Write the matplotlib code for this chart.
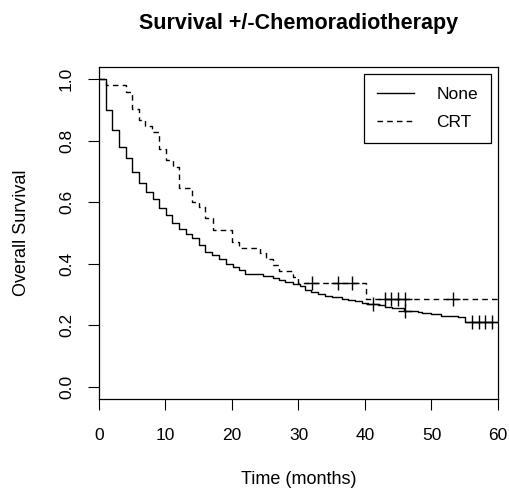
import numpy as np
import matplotlib
matplotlib.use("Agg")
import matplotlib.pyplot as plt
from matplotlib.lines import Line2D

# Kaplan-Meier step data
none_t = [0, 1.05, 2.0, 3.05, 4.05, 5.0, 6.05, 7.05, 8.05, 9.05, 10.1, 11.05, 12.1, 13.1,
          14.0, 15.0, 16.0, 17.0, 18.0, 19.1, 20.1, 21.0, 22.0, 24.6, 26.1, 27.0, 28.0,
          29.1, 30.2, 31.0, 31.9, 33.0, 34.0, 35.0, 36.5, 37.5, 38.5, 39.5, 40.5, 42.0,
          43.0, 44.0, 45.8, 48.0, 48.5, 50.0, 51.5, 54.0, 55.1, 60.0]
none_s = [1.0, 0.899, 0.834, 0.780, 0.743, 0.699, 0.663, 0.634, 0.609, 0.582, 0.558, 0.531,
          0.512, 0.496, 0.483, 0.461, 0.439, 0.429, 0.415, 0.399, 0.389, 0.380, 0.366, 0.361,
          0.355, 0.347, 0.341, 0.333, 0.327, 0.315, 0.307, 0.302, 0.297, 0.292, 0.287, 0.283,
          0.279, 0.274, 0.270, 0.265, 0.261, 0.255, 0.248, 0.243, 0.239, 0.236, 0.232, 0.228,
          0.211, 0.211]
none_cens = [41.2, 46.0, 56.1, 57.1, 58.1, 59.1]

crt_t = [0, 1.05, 4.05, 5.0, 6.0, 6.9, 8.0, 9.05, 10.1, 11.1, 12.1, 14.0, 15.0, 16.0, 17.1,
         20.0, 21.0, 24.2, 25.1, 26.1, 27.0, 29.2, 30.0, 40.1, 60.0]
crt_s = [1.0, 0.981, 0.959, 0.902, 0.867, 0.847, 0.829, 0.772, 0.737, 0.715, 0.645, 0.602,
         0.585, 0.548, 0.510, 0.472, 0.452, 0.434, 0.415, 0.396, 0.378, 0.357, 0.338, 0.285,
         0.285]
crt_cens = [32.1, 36.0, 38.1, 43.0, 43.9, 44.9, 46.0, 53.2]

x_ticks = [0, 10, 20, 30, 40, 50, 60]
y_ticks = [0.0, 0.2, 0.4, 0.6, 0.8, 1.0]
labels = ["None", "CRT"]

plt.rcParams['font.family'] = ['Liberation Sans', 'DejaVu Sans']

fig = plt.figure(figsize=(5.10, 4.91), dpi=100)
W, H = 510, 491
ax = fig.add_axes([99 / W, 1 - 399.3 / H, (498 - 99) / W, (399.3 - 66.7) / H])


def step_val(ts, ss, t):
    i = np.searchsorted(ts, t, side='right') - 1
    return ss[i]


ax.step(none_t, none_s, where='post', color='black', lw=1.0)
ax.step(crt_t, crt_s, where='post', color='black', lw=1.0, linestyle=(0, (4, 3)))

ax.plot(none_cens, [step_val(none_t, none_s, t) for t in none_cens], linestyle='none',
        marker='+', markersize=10, markeredgewidth=1.0, color='black')
ax.plot(crt_cens, [step_val(crt_t, crt_s, t) for t in crt_cens], linestyle='none',
        marker='+', markersize=10, markeredgewidth=1.0, color='black')

ax.set_xlim(0, 60)
ax.set_ylim(-0.04, 1.04)
ax.set_xticks(x_ticks)
ax.set_xticklabels([str(v) for v in x_ticks])
ax.set_yticks(y_ticks)
ax.set_yticklabels([f"{v:.1f}" for v in y_ticks], rotation=90, va='center')
ax.tick_params(direction='out', length=8, width=0.8, labelsize=12.5)
ax.tick_params(axis='x', pad=13)
ax.tick_params(axis='y', pad=10)
for s in ax.spines.values():
    s.set_linewidth(0.9)

ax.set_xlabel("Time (months)", fontsize=13, va='center')
ax.xaxis.set_label_coords(0.5, (399.3 - 480) / (399.3 - 66.7))
ax.set_ylabel("Overall Survival", fontsize=13, va='center')
ax.yaxis.set_label_coords((22 - 99) / (498 - 99), 0.5)
fig.text(298.5 / W, 1 - 23 / H, "Survival +/-Chemoradiotherapy", ha='center', va='center',
         fontsize=15.5, fontweight='bold')

handles = [Line2D([], [], color='black', lw=1.0),
           Line2D([], [], color='black', lw=1.0, linestyle=(0, (4, 3)))]
leg = ax.legend(handles, labels, loc='upper right', bbox_to_anchor=(491 / W, 1 - 74 / H),
                bbox_transform=fig.transFigure, fancybox=False, edgecolor='black',
                framealpha=1, fontsize=12.5, handlelength=2.1, handletextpad=1.3,
                borderpad=0.75, labelspacing=0.75, borderaxespad=0)
leg.get_frame().set_linewidth(0.9)

fig.savefig("out.png", dpi=100)
